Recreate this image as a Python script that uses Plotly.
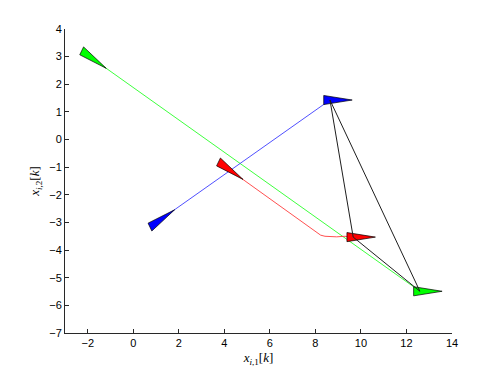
import numpy as np
import plotly.graph_objects as go

# agents: green, blue, red
AGENTS = ["green", "blue", "red"]
FILL = {"green": "rgb(0,255,0)", "blue": "rgb(0,0,255)", "red": "rgb(255,0,0)"}
LINE = {"green": "rgb(40,255,40)", "blue": "rgb(60,60,255)", "red": "rgb(255,60,60)"}

# trajectories x_{i,1}[k], x_{i,2}[k]
green_x = [-2.03, 12.59]
green_y = [3.07, -5.49]
blue_x = [0.97, 8.64]
blue_y = [-3.03, 1.43]
red_x = [3.98, 8.23, 8.42, 8.93, 9.30, 9.66]
red_y = [-0.95, -3.46, -3.50, -3.52, -3.50, -3.53]

# headings (deg) at start and end
start_heading = {"green": -30.4, "blue": 30.0, "red": -30.4}
end_heading = {"green": 0.0, "blue": 0.0, "red": 0.0}

TRAJ = {"green": (green_x, green_y), "blue": (blue_x, blue_y), "red": (red_x, red_y)}

# vehicle triangle shape (data units)
L, W, BACK = 1.25, 0.33, 0.22


def triangle(x, y, deg):
    a = np.radians(deg)
    h = np.array([np.cos(a), np.sin(a)])
    n = np.array([-np.sin(a), np.cos(a)])
    p = np.array([x, y])
    tip = p + (1 - BACK) * L * h
    b1 = p - BACK * L * h + W / 2 * n
    b2 = p - BACK * L * h - W / 2 * n
    pts = np.array([b1, tip, b2, b1])
    return pts[:, 0], pts[:, 1]


fig = go.Figure()

for name in AGENTS:
    xs, ys = TRAJ[name]
    fig.add_trace(go.Scatter(x=xs, y=ys, mode="lines",
                             line=dict(color=LINE[name], width=0.9)))

for name in AGENTS:
    xs, ys = TRAJ[name]
    for (px, py, hd) in [(xs[0], ys[0], start_heading[name]), (xs[-1], ys[-1], end_heading[name])]:
        tx, ty = triangle(px, py, hd)
        fig.add_trace(go.Scatter(x=tx, y=ty, mode="lines", fill="toself",
                                 fillcolor=FILL[name],
                                 line=dict(color="black", width=0.7)))

# links between final positions
fx = [TRAJ[n][0][-1] for n in AGENTS]
fy = [TRAJ[n][1][-1] for n in AGENTS]
fig.add_trace(go.Scatter(x=fx + [fx[0]], y=fy + [fy[0]], mode="lines",
                         line=dict(color="rgb(30,30,30)", width=1)))

axis_common = dict(showgrid=False, zeroline=False, showline=True, linecolor="rgb(40,40,40)",
                   linewidth=1, ticks="inside", ticklen=4, tickcolor="rgb(40,40,40)",
                   tickfont=dict(family="Liberation Sans, Arial", size=11, color="black"),
                   mirror=False)
title_font = dict(family="Liberation Serif, DejaVu Serif", size=13, color="black")

# page body adds ~8px offset, so the figure is a bit smaller than the window
fig.update_layout(
    width=490, height=367,
    margin=dict(l=57, r=46, t=21, b=42),
    plot_bgcolor="white", paper_bgcolor="white",
    showlegend=False,
    xaxis=dict(range=[-3, 14], dtick=2, tick0=0,
               title=dict(text="<i>x</i><sub><i>i</i>,1</sub>[<i>k</i>]", standoff=4, font=title_font),
               **axis_common),
    yaxis=dict(range=[-7, 4], dtick=1, tick0=0,
               title=dict(text="<i>x</i><sub><i>i</i>,2</sub>[<i>k</i>]", standoff=6, font=title_font),
               **axis_common),
)

fig.write_html("out.html")
